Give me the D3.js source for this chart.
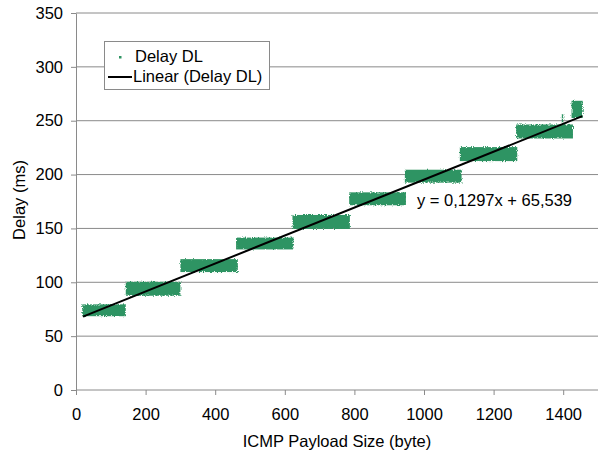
<!DOCTYPE html>
<meta charset="utf-8">
<style>
    body { margin: 0; background: #fff; }
    text { font-family: "Liberation Sans", Arial, sans-serif; font-size: 16.5px; fill: #000; }
    .grid line { stroke: #8a8a8a; stroke-width: 1px; }
    .axis path, .axis line { stroke: #8a8a8a; }
</style>
<svg width="598" height="454"></svg>
<script src="https://d3js.org/d3.v7.min.js"></script>
<script>
    // steps of the measured delay (each band = cloud of points for one payload range)
    const stepStart = [18, 143, 300, 460, 622, 785, 945, 1103, 1265, 1396, 1424];
    const stepEnd   = [143, 300, 465, 625, 787, 948, 1108, 1268, 1428, 1400, 1456];
    const stepLow   = [68.5, 87.5, 109.5, 130.5, 149.5, 171.5, 192.5, 212.5, 233.5, 240, 252.5];
    const stepHigh  = [79.5, 100.5, 121.5, 141.5, 162.5, 183.5, 204.5, 225.5, 246.5, 256, 268.5];

    // linear trendline from the chart
    const trendSlope = 0.1297;
    const trendIntercept = 65.539;
    const trendX = [20, 1455];

    const xTicks = [0, 200, 400, 600, 800, 1000, 1200, 1400];
    const yTicks = [0, 50, 100, 150, 200, 250, 300, 350];

    let svg = d3.select("svg");
    const plotLeft = 76, plotRight = 598, plotTop = 13, plotBottom = 390;
    const green = "#2f9463";

    let x = d3.scaleLinear().domain([0, 1500]).range([plotLeft, plotRight]);
    let y = d3.scaleLinear().domain([0, 350]).range([plotBottom, plotTop]);

    // roughen the band edges a little so they look like a dense point cloud
    let defs = svg.append("defs");
    let f = defs.append("filter").attr("id", "rough")
        .attr("x", "-5%").attr("y", "-30%").attr("width", "110%").attr("height", "160%");
    f.append("feTurbulence").attr("type", "fractalNoise").attr("baseFrequency", 0.9)
        .attr("numOctaves", 2).attr("seed", 3).attr("result", "noise");
    f.append("feDisplacementMap").attr("in", "SourceGraphic").attr("in2", "noise")
        .attr("scale", 3.5).attr("xChannelSelector", "R").attr("yChannelSelector", "G");

    // horizontal gridlines
    svg.append("g").attr("class", "grid")
        .selectAll("line")
        .data(yTicks.filter(d => d > 0))
        .enter().append("line")
        .attr("x1", plotLeft).attr("x2", plotRight)
        .attr("y1", d => y(d)).attr("y2", d => y(d));

    // axes
    let xAxis = svg.append("g").attr("class", "axis")
        .attr("transform", "translate(0," + plotBottom + ")")
        .call(d3.axisBottom(x).tickValues(xTicks).tickFormat(d3.format("d"))
            .tickSize(5).tickPadding(13).tickSizeOuter(0));
    xAxis.select(".domain").attr("d", "M" + plotLeft + ",0H" + plotRight);
    xAxis.selectAll("text").attr("fill", "#000").style("font-size", "16.5px")
        .style("font-family", "'Liberation Sans', Arial, sans-serif");

    let yAxis = svg.append("g").attr("class", "axis")
        .attr("transform", "translate(" + plotLeft + ",0)")
        .call(d3.axisLeft(y).tickValues(yTicks).tickFormat(d3.format("d"))
            .tickSize(5).tickPadding(8).tickSizeOuter(0));
    yAxis.selectAll("text").attr("fill", "#000").style("font-size", "16.5px")
        .style("font-family", "'Liberation Sans', Arial, sans-serif");

    // point clouds
    let steps = stepStart.map((s, i) => ({ x0: s, x1: stepEnd[i], lo: stepLow[i], hi: stepHigh[i] }));
    svg.append("g").attr("filter", "url(#rough)")
        .selectAll("rect")
        .data(steps)
        .enter().append("rect")
        .attr("x", d => x(d.x0))
        .attr("width", d => Math.max(1.5, x(d.x1) - x(d.x0)))
        .attr("y", d => y(d.hi))
        .attr("height", d => y(d.lo) - y(d.hi))
        .attr("fill", green);

    // trendline
    svg.append("line")
        .attr("x1", x(trendX[0])).attr("y1", y(trendSlope * trendX[0] + trendIntercept))
        .attr("x2", x(trendX[1])).attr("y2", y(trendSlope * trendX[1] + trendIntercept))
        .attr("stroke", "#000").attr("stroke-width", 2);

    svg.append("text").attr("x", 417).attr("y", 206)
        .text("y = 0,1297x + 65,539");

    // axis titles
    svg.append("text").attr("x", 337).attr("y", 447).attr("text-anchor", "middle")
        .text("ICMP Payload Size (byte)");
    svg.append("text").attr("transform", "translate(25,200) rotate(-90)")
        .attr("text-anchor", "middle").text("Delay (ms)");

    // legend
    let legend = svg.append("g");
    legend.append("rect").attr("x", 104.5).attr("y", 41.5).attr("width", 165).attr("height", 48)
        .attr("fill", "#fff").attr("stroke", "#8a8a8a");
    legend.append("rect").attr("x", 119).attr("y", 56).attr("width", 2.5).attr("height", 2.5).attr("fill", green);
    legend.append("text").attr("x", 135).attr("y", 62).text("Delay DL");
    legend.append("line").attr("x1", 108).attr("x2", 132).attr("y1", 77).attr("y2", 77)
        .attr("stroke", "#000").attr("stroke-width", 2);
    legend.append("text").attr("x", 133).attr("y", 82).text("Linear (Delay DL)");
</script>
<body>
</body>
